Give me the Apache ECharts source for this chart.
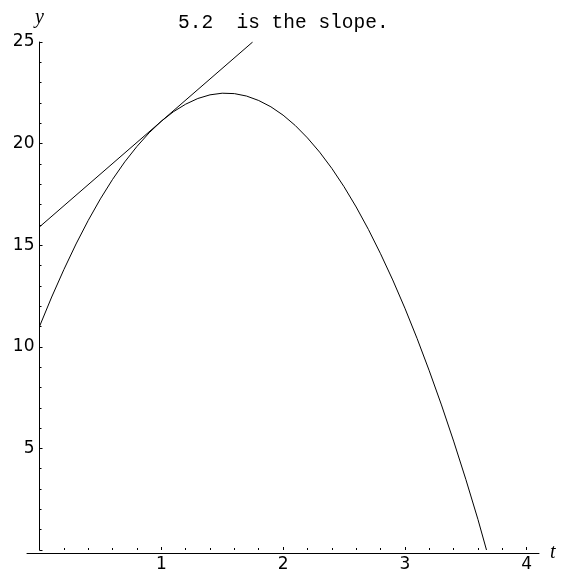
<!DOCTYPE html>
<html>
<head>
<meta charset="utf-8">
<script src="https://cdn.jsdelivr.net/npm/echarts@6/dist/echarts.min.js"></script>
<style>
  html, body { margin: 0; padding: 0; background: #fff; }
  #chart { width: 562px; height: 573px; }
</style>
</head>
<body>
<div id="chart"></div>
<script>
// Height of the projectile over time, sampled along the curve
const timeValues   = [0, 0.1, 0.2, 0.3, 0.4, 0.5, 0.6, 0.7, 0.8, 0.9, 1.0, 1.1, 1.2, 1.3, 1.4, 1.5, 1.6, 1.7, 1.8, 1.9,
                      2.0, 2.1, 2.2, 2.3, 2.4, 2.5, 2.6, 2.7, 2.8, 2.9, 3.0, 3.1, 3.2, 3.3, 3.4, 3.5, 3.6, 3.67];
const heightValues = [11.0, 12.45, 13.8, 15.06, 16.22, 17.28, 18.24, 19.1, 19.86, 20.53, 21.1, 21.57, 21.94, 22.22, 22.4, 22.48, 22.46, 22.34, 22.12, 21.81,
                      21.4, 20.89, 20.28, 19.58, 18.78, 17.88, 16.88, 15.78, 14.58, 13.29, 11.9, 10.41, 8.82, 7.14, 5.36, 3.48, 1.5, 0];

// Tangent line at t = 1 (slope 5.2)
const tangentTime   = [0, 1.75];
const tangentHeight = [15.9, 25];
const slopeText = '5.2  is the slope.';

// Axis tick labels
const xTickLabels = [1, 2, 3, 4];
const yTickLabels = [5, 10, 15, 20, 25];

const curveData = timeValues.map((t, i) => [t, heightValues[i]]);
const tangentData = tangentTime.map((t, i) => [t, tangentHeight[i]]);

const tickFont = { fontFamily: 'DejaVu Sans', fontSize: 17, color: '#000' };
const nameFont = { fontFamily: 'Liberation Serif', fontStyle: 'italic', fontSize: 20, color: '#000' };
const black = { color: '#000', width: 1 };

const chart = echarts.init(document.getElementById('chart'), null, { renderer: 'canvas' });
chart.setOption({
  animation: false,
  backgroundColor: '#fff',
  title: {
    text: slopeText,
    left: 178,
    top: 13,
    padding: 0,
    textStyle: { fontFamily: 'Liberation Mono', fontSize: 19.5, fontWeight: 'normal', color: '#000' }
  },
  grid: [
    // plotting area, t from 0 to 4
    { left: 39.5, right: 35.3, top: 42, bottom: 20, containLabel: false },
    // horizontal axis line, running slightly past both ends
    { left: 27, right: 23, top: 42, bottom: 20, containLabel: false }
  ],
  xAxis: [
    {
      gridIndex: 0, type: 'value', min: 0, max: 4, interval: 1,
      axisLine: { show: false },
      axisTick: { show: true, inside: true, length: 3, lineStyle: black },
      minorTick: { show: true, splitNumber: 5, length: 2, lineStyle: black },
      axisLabel: {
        show: true, margin: 6, ...tickFont,
        formatter: v => (xTickLabels.indexOf(v) >= 0 ? String(v) : '')
      },
      splitLine: { show: false }
    },
    {
      gridIndex: 1, type: 'value', min: -0.1, max: 4.1,
      name: 't', nameLocation: 'end', nameGap: 11, nameTextStyle: nameFont,
      axisLine: { show: true, onZero: false, lineStyle: black },
      axisTick: { show: false },
      axisLabel: { show: false },
      splitLine: { show: false }
    }
  ],
  yAxis: [
    {
      gridIndex: 0, type: 'value', min: 0, max: 25, interval: 5,
      name: 'y', nameLocation: 'end', nameGap: 14, nameTextStyle: nameFont,
      axisLine: { show: true, onZero: false, lineStyle: black },
      axisTick: { show: true, inside: true, length: 3, lineStyle: black },
      minorTick: { show: true, splitNumber: 5, length: 2, lineStyle: black },
      axisLabel: {
        show: true, margin: 5, ...tickFont,
        formatter: v => (yTickLabels.indexOf(v) >= 0 ? String(v) : '')
      },
      splitLine: { show: false }
    },
    {
      gridIndex: 1, type: 'value', min: 0, max: 25, show: false
    }
  ],
  series: [
    {
      type: 'line', xAxisIndex: 0, yAxisIndex: 0, data: curveData,
      showSymbol: false, smooth: false,
      lineStyle: { color: '#000', width: 1 }
    },
    {
      type: 'line', xAxisIndex: 0, yAxisIndex: 0, data: tangentData,
      showSymbol: false, smooth: false,
      lineStyle: { color: '#000', width: 1 }
    }
  ]
});
</script>
</body>
</html>
